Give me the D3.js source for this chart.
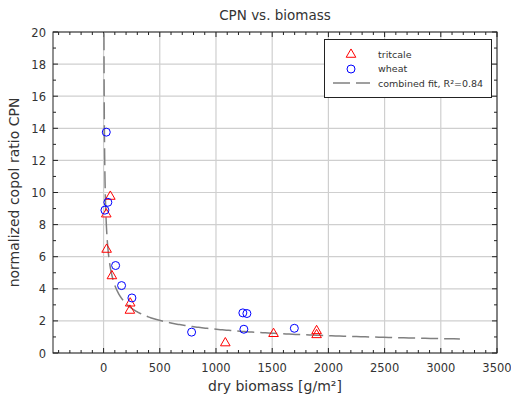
<!DOCTYPE html>
<html><head><meta charset="utf-8">
<script src="https://cdn.jsdelivr.net/npm/d3@7"></script>
<style>
body{margin:0;background:#fff;}
text{font-family:"DejaVu Sans",sans-serif;}
</style></head>
<body><svg id="c" width="511" height="398"></svg>
<script>
// data
const tritcaleX = [60, 24, 27, 74, 237, 234, 1083, 1512, 1895, 1895];
const tritcaleY = [9.75, 8.65, 6.45, 4.8, 3.1, 2.65, 0.62, 1.2, 1.38, 1.13];
const wheatX = [24, 38, 12, 107, 160, 252, 783, 1239, 1275, 1248, 1697];
const wheatY = [13.76, 9.39, 8.9, 5.45, 4.2, 3.43, 1.3, 2.5, 2.46, 1.48, 1.54];
const fitA = 34.3, fitB = -0.455, fitXmin = 3.3, fitXmax = 3170;
const xTicks = [0, 500, 1000, 1500, 2000, 2500, 3000, 3500];
const yTicks = [0, 2, 4, 6, 8, 10, 12, 14, 16, 18, 20];
const legendLabels = ["tritcale", "wheat", "combined fit, R\u00b2=0.84"];

const svg = d3.select("#c");
const L = 53, R = 497, T = 32, B = 353;
const x = d3.scaleLinear().domain([-450, 3500]).range([L, R]);
const y = d3.scaleLinear().domain([0, 20]).range([B, T]);
const txtCol = "#333";

// grid
const g = svg.append("g");
g.selectAll(".gx").data(xTicks).join("line")
  .attr("x1", d => x(d)).attr("x2", d => x(d)).attr("y1", T).attr("y2", B)
  .attr("stroke", "#cfcfcf").attr("stroke-width", 1.2);
g.selectAll(".gy").data(yTicks).join("line")
  .attr("x1", L).attr("x2", R).attr("y1", d => y(d)).attr("y2", d => y(d))
  .attr("stroke", "#cfcfcf").attr("stroke-width", 1.2);

// ticks (inward, all sides)
const xMinor = d3.range(-400, 3501, 100);
const yMinor = d3.range(0, 20.01, 1);
const tk = svg.append("g").attr("stroke", "#222").attr("stroke-width", 1);
xMinor.forEach(v => {
  const len = (v % 500 === 0) ? 5 : 3;
  tk.append("line").attr("x1", x(v)).attr("x2", x(v)).attr("y1", B).attr("y2", B - len);
  tk.append("line").attr("x1", x(v)).attr("x2", x(v)).attr("y1", T).attr("y2", T + len);
});
yMinor.forEach(v => {
  const len = (Math.round(v) % 2 === 0) ? 5 : 3;
  tk.append("line").attr("x1", L).attr("x2", L + len).attr("y1", y(v)).attr("y2", y(v));
  tk.append("line").attr("x1", R).attr("x2", R - len).attr("y1", y(v)).attr("y2", y(v));
});

// tick labels
svg.append("g").selectAll("text").data(xTicks).join("text")
  .attr("x", d => x(d)).attr("y", 372).attr("text-anchor", "middle")
  .attr("font-size", 11.5).attr("fill", txtCol).text(d => d);
svg.append("g").selectAll("text").data(yTicks).join("text")
  .attr("x", 46).attr("y", d => y(d) + 4.5).attr("text-anchor", "end")
  .attr("font-size", 11.5).attr("fill", txtCol).text(d => d);

// fit curve
const clipId = "clipP";
svg.append("clipPath").attr("id", clipId).append("rect")
  .attr("x", L).attr("y", T).attr("width", R - L).attr("height", B - T);
const fitXs = d3.range(0, 401).map(i => fitXmin * Math.pow(fitXmax / fitXmin, i / 400));
svg.append("path")
  .datum(fitXs)
  .attr("clip-path", `url(#${clipId})`)
  .attr("fill", "none").attr("stroke", "#808080").attr("stroke-width", 1.5)
  .attr("stroke-dasharray", "17,6")
  .attr("d", d3.line().x(d => x(d)).y(d => y(fitA * Math.pow(d, fitB))));

// markers
const tri = d3.symbol().type(d3.symbolTriangle).size(40);
svg.append("g").selectAll("path").data(tritcaleX).join("path")
  .attr("d", tri)
  .attr("transform", (d, i) => `translate(${x(d)},${y(tritcaleY[i])})`)
  .attr("fill", "none").attr("stroke", "#ff0000").attr("stroke-width", 1);
svg.append("g").selectAll("circle").data(wheatX).join("circle")
  .attr("cx", d => x(d)).attr("cy", (d, i) => y(wheatY[i])).attr("r", 4)
  .attr("fill", "none").attr("stroke", "#0000ff").attr("stroke-width", 1);

// frame
svg.append("rect").attr("x", L).attr("y", T).attr("width", R - L).attr("height", B - T)
  .attr("fill", "none").attr("stroke", "#222").attr("stroke-width", 1);

// legend
const lg = svg.append("g");
lg.append("rect").attr("x", 324.5).attr("y", 39.5).attr("width", 167).attr("height", 58)
  .attr("fill", "#fff").attr("stroke", "#222").attr("stroke-width", 1);
lg.append("path").attr("d", tri).attr("transform", "translate(351,54.5)")
  .attr("fill", "none").attr("stroke", "#ff0000");
lg.append("circle").attr("cx", 351).attr("cy", 69).attr("r", 4)
  .attr("fill", "none").attr("stroke", "#0000ff");
lg.append("line").attr("x1", 333).attr("x2", 370).attr("y1", 83).attr("y2", 83)
  .attr("stroke", "#808080").attr("stroke-width", 1.5).attr("stroke-dasharray", "17,6");
lg.selectAll("text").data(legendLabels).join("text")
  .attr("x", 378).attr("y", (d, i) => 57.5 + i * 14.5)
  .attr("font-size", 9.5).attr("fill", txtCol).text(d => d);

// titles
svg.append("text").attr("x", (L + R) / 2).attr("y", 20).attr("text-anchor", "middle")
  .attr("font-size", 13.5).attr("fill", txtCol).text("CPN vs. biomass");
svg.append("text").attr("x", (L + R) / 2).attr("y", 391).attr("text-anchor", "middle")
  .attr("font-size", 14).attr("fill", txtCol).text("dry biomass [g/m\u00b2]");
svg.append("text").attr("transform", `translate(19,${(T + B) / 2}) rotate(-90)`)
  .attr("text-anchor", "middle")
  .attr("font-size", 14).attr("fill", txtCol).text("normalized copol ratio CPN");
</script></body></html>
